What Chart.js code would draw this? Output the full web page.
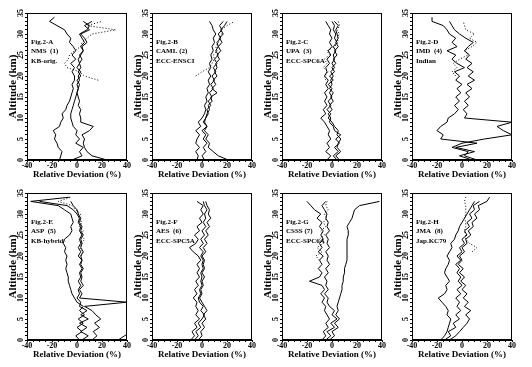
<!DOCTYPE html>
<html lang="en">
<head>
<meta charset="UTF-8">
<title>Relative Deviation Profiles</title>
<script src="https://cdn.jsdelivr.net/npm/chart.js"></script>
<style>
  body { margin: 0; background: #fff; }
  #wrap { position: relative; width: 532px; height: 367px; }
  #wrap canvas { position: absolute; }
</style>
</head>
<body>
<div id="wrap"></div>
<script>
// altitude levels (km), shared by every profile
const altitudes = [0,1,2,3,4,5,6,7,8,9,10,11,12,13,14,15,16,17,18,19,20,21,22,23,24,25,26,27,28,29,30,31,32,33,34];
const xTickLabels = [-40, -20, 0, 20, 40];
const yTickLabels = [0, 5, 10, 15, 20, 25, 30, 35];

const panelTitles = ['Fig.2-A', 'Fig.2-B', 'Fig.2-C', 'Fig.2-D', 'Fig.2-E', 'Fig.2-F', 'Fig.2-G', 'Fig.2-H'];
const stationNames = ['NMS  (1)', 'CAML (2)', 'UPA  (3)', 'IMD  (4)', 'ASP  (5)', 'AES  (6)', 'CSSS (7)', 'JMA  (8)'];
const sondeTypes = ['KB-orig.', 'ECC-ENSCI', 'ECC-SPC6A', 'Indian', 'KB-hybrid', 'ECC-SPC5A', 'ECC-SPC6A', 'Jap.KC79'];

// relative deviation (%) at each altitude, null = no data
// panel A
const aLine1 = [-14,-13,-12,-15,-16,-18,-17,-19,-14,-13,-11,-12,-9,-8,-6,-5,-4,-3,-4,-2,-2,-4,-2,-5,-1,-4,-1,-3,-6,-5,-8,-10,-16,-22,-18];
const aLine2 = [-4,4,2,5,-1,2,-1,0,-3,-4,-5,-5,-4,-3,-2,-1,0,1,2,0,3,1,3,2,4,2,5,3,6,4,2,8,10,5,null];
const aLine3 = [24,12,8,6,5,6,4,10,13,3,3,2,3,1,2,1,0,1,0,2,1,3,0,2,1,3,5,4,8,6,3,10,6,12,null];
const aDots  = [null,null,null,null,null,null,null,null,null,null,null,null,null,null,null,null,null,null,null,17,6,2,-8,-10,-7,-6,-2,3,4,8,12,31,8,20,null];
// panel B
const bLine1 = [-4,-3,-5,-2,-5,-4,-2,-5,-1,-3,0,2,3,2,4,3,5,4,6,5,7,5,7,6,8,7,9,8,10,9,11,9,8,6,null];
const bLine2 = [2,0,3,1,4,1,3,0,4,2,3,5,4,7,5,8,6,9,7,10,8,11,9,12,10,13,11,13,12,15,13,16,14,17,null];
const bLine3 = [21,13,9,5,6,3,5,2,4,1,3,4,6,5,8,7,12,8,11,9,12,10,12,11,14,12,15,13,16,14,17,15,18,20,null];
const bDots  = [null,null,null,null,null,null,null,null,null,null,null,null,null,null,null,null,null,null,null,null,-5,0,6,8,10,9,12,11,13,14,16,15,20,26,null];
// panel C
const cLine1 = [-4,-1,-5,-2,-4,-1,-3,-2,-4,-6,-9,-5,-7,-4,-6,-4,-6,-3,-5,-3,-6,-4,-5,-2,-4,-1,-3,0,-2,0,-2,-1,-3,-5,null];
const cLine2 = [4,1,5,2,6,3,7,2,1,-2,-1,-3,0,-2,1,-1,1,-2,0,-1,1,-1,2,0,2,1,3,1,4,2,3,1,2,0,null];
const cLine3 = [6,3,7,4,5,7,4,5,2,0,-3,-1,-4,-1,-3,0,-2,0,-3,1,-2,2,0,3,1,4,2,5,3,5,4,3,5,2,null];
const cDots  = [null,null,null,null,null,null,null,null,null,null,null,null,null,null,null,null,null,null,null,-5,-6,-3,-7,-4,-6,-2,-4,2,5,4,6,4,6,5,null];
// panel D
const dLine1 = [8,-2,10,-5,12,-17,-15,-20,-17,-12,-11,-6,-3,-6,-2,-5,-1,-4,0,-5,-2,-6,2,-4,-8,-5,-12,-4,-8,-5,-10,-12,-15,-24,-24];
const dLine2 = [12,2,5,-8,0,18,40,33,28,40,2,4,1,5,2,6,3,8,4,10,5,9,4,8,3,6,2,5,9,3,-2,-6,-8,-10,null];
const dDots  = [null,null,null,null,null,null,null,null,null,null,null,null,null,null,null,null,null,null,null,null,-5,-8,-4,-7,-2,5,2,8,12,6,10,3,2,1,null];
// panel E
const eLine1 = [2,-1,4,0,5,1,6,2,5,0,-2,-4,-5,-6,-7,-7,-8,-9,-8,-9,-8,-10,-9,-11,-10,-6,-4,-5,-3,-4,-5,-10,-15,-37,-6];
const eLine2 = [4,9,3,8,2,9,3,8,2,3,0,2,1,3,1,3,2,4,2,4,1,3,1,3,2,4,2,3,1,2,0,-3,-8,-30,null];
const eLine3 = [12,16,13,18,14,19,15,12,6,40,2,4,2,5,3,4,3,5,3,4,3,5,3,4,3,5,3,4,2,3,1,0,-3,-5,null];
const eLine4 = [33,38,45,null,null,null,null,null,null,null,null,null,null,null,null,null,null,null,null,null,null,null,null,null,null,null,null,null,null,null,null,null,null,null,null];
const eDots  = [null,null,null,null,null,null,null,null,null,null,null,null,null,null,null,null,null,null,null,null,3,5,2,4,6,3,5,2,4,1,3,-1,-4,-15,-5];
// panel F
const fLine1 = [-9,-6,-8,-4,-6,-2,-5,-3,-5,-4,-7,-4,-6,-3,-5,-2,-4,-2,-4,-1,-3,-7,-10,-5,-3,-6,-2,-4,0,-2,1,-1,1,-4,null];
const fLine2 = [-6,-3,-5,-1,-3,0,2,-1,1,-2,-3,-1,-2,0,-1,0,-1,1,0,1,-1,1,-2,1,-1,2,0,3,1,3,2,4,2,1,null];
const fLine3 = [-3,0,-1,2,0,3,1,4,2,0,-2,0,-1,1,0,2,0,2,1,2,0,3,1,4,2,5,3,6,4,7,5,6,4,3,null];
// panel G
const gLine1 = [-8,-5,-7,-3,-5,-2,-4,-6,-5,-8,-6,-9,-6,-8,-18,-10,-8,-11,-8,-10,-7,-11,-8,-10,-7,-9,-7,-10,-8,-12,-9,-14,-17,-20,null];
const gLine2 = [-5,-1,-4,2,-1,4,0,2,-2,-4,-3,-6,-3,-5,-4,-6,-3,-5,-2,-4,-3,-5,-2,-4,-3,-5,-2,-4,-3,-5,-4,-6,-8,-5,null];
const gLine3 = [-2,2,0,5,2,6,3,5,4,5,6,7,8,8,9,9,10,10,11,12,12,12,12,12,12,13,13,12,14,16,17,18,22,38,null];
const gDots  = [null,null,null,null,null,null,null,null,null,null,null,null,null,null,null,null,null,null,null,-10,-13,-8,-12,-7,-10,-6,-9,-5,-7,-4,-6,-3,-5,-4,null];
// panel H
const hLine1 = [-17,-14,-12,-11,-10,-9,-12,-11,-13,-16,-19,-14,-12,-13,-10,-12,-14,-13,-11,-10,-12,-10,-8,-9,-6,-5,-3,-2,0,2,4,6,8,10,null];
const hLine2 = [-14,-9,-11,-5,-7,-2,-5,-1,-4,-2,-5,-1,-4,0,-3,-1,-4,-2,-5,-1,-4,0,-2,2,0,4,2,6,4,8,6,10,9,14,null];
const hLine3 = [-10,-5,-2,1,4,6,3,7,2,5,1,4,0,3,-1,2,-2,1,-3,0,-2,2,0,4,3,7,5,9,8,12,10,14,13,20,22];
const hDots  = [null,null,null,null,null,null,null,null,null,null,null,null,null,null,null,null,null,null,null,null,null,8,12,6,3,3,2,3,3,2,3,3,3,2,3];

const panels = [
    { solid: [aLine1, aLine2, aLine3], dotted: [aDots] },
    { solid: [bLine1, bLine2, bLine3], dotted: [bDots] },
    { solid: [cLine1, cLine2, cLine3], dotted: [cDots] },
    { solid: [dLine1, dLine2], dotted: [dDots] },
    { solid: [eLine1, eLine2, eLine3, eLine4], dotted: [eDots] },
    { solid: [fLine1, fLine2, fLine3], dotted: [] },
    { solid: [gLine1, gLine2, gLine3], dotted: [gDots] },
    { solid: [hLine1, hLine2, hLine3], dotted: [hDots] }
];

const canvasLeft = [0, 125, 255, 385];
const canvasTop = [0, 180];
const serif = '"Liberation Serif", "DejaVu Serif", serif';

// box around plot, rotated altitude labels, and the label block in the upper left
const panelFrame = {
    id: 'panelFrame',
    afterDraw(chart, args, opts) {
        if (!opts.lines) return;
        const { ctx, chartArea: a } = chart;
        const yScale = chart.scales.y;
        ctx.save();
        ctx.strokeStyle = '#000';
        ctx.lineWidth = 1;
        ctx.strokeRect(Math.round(a.left) + 0.5, Math.round(a.top) + 0.5, Math.round(a.width) - 1, Math.round(a.height) - 1);
        ctx.fillStyle = '#000';
        ctx.textAlign = 'center';
        ctx.textBaseline = 'middle';

        // y tick labels, read bottom to top
        ctx.font = 'bold 8px ' + serif;
        yTickLabels.forEach(v => {
            ctx.save();
            ctx.translate(a.left - 6, yScale.getPixelForValue(v));
            ctx.rotate(-Math.PI / 2);
            ctx.fillText(String(v), 0, 0);
            ctx.restore();
        });

        // y axis title
        ctx.save();
        ctx.font = 'bold 11px ' + serif;
        ctx.translate(a.left - 14, (a.top + a.bottom) / 2);
        ctx.rotate(-Math.PI / 2);
        ctx.fillText('Altitude (km)', 0, 0);
        ctx.restore();

        ctx.font = 'bold 7px ' + serif;
        ctx.textAlign = 'left';
        opts.lines.forEach((t, i) => ctx.fillText(t, a.left + 4, a.top + 29 + i * 9.5));
        ctx.restore();
    }
};
Chart.register(panelFrame);

function toPoints(vals) {
    return vals.map((v, i) => ({ x: v, y: altitudes[i] })).filter(p => p.x !== null);
}

function drawPanel(idx) {
    const canvas = document.createElement('canvas');
    canvas.width = 132;
    canvas.height = 180;
    canvas.style.left = canvasLeft[idx % 4] + 'px';
    canvas.style.top = canvasTop[Math.floor(idx / 4)] + 'px';
    document.getElementById('wrap').appendChild(canvas);

    const p = panels[idx];
    const datasets = [];
    p.solid.forEach(vals => datasets.push({
        data: toPoints(vals), borderColor: '#000', borderWidth: 1, pointRadius: 0
    }));
    p.dotted.forEach(vals => datasets.push({
        data: toPoints(vals), borderColor: '#000', borderWidth: 1, borderDash: [1, 2], pointRadius: 0
    }));

    new Chart(canvas, {
        type: 'line',
        data: { datasets: datasets },
        options: {
            responsive: false,
            animation: false,
            indexAxis: 'y',
            layout: { padding: { top: 13, right: 5, left: 25, bottom: 0 } },
            plugins: {
                legend: { display: false },
                tooltip: { enabled: false },
                panelFrame: { lines: [panelTitles[idx], stationNames[idx], sondeTypes[idx]] }
            },
            scales: {
                x: {
                    type: 'linear', min: -40, max: 40,
                    ticks: {
                        stepSize: 5, autoSkip: false, maxRotation: 0, padding: -1, color: '#000',
                        font: { family: serif, size: 8, weight: 'bold' },
                        callback: v => xTickLabels.includes(v) ? String(v) : ''
                    },
                    grid: { drawOnChartArea: false, tickLength: 2, color: '#000' },
                    border: { color: '#000' },
                    title: {
                        display: true, text: 'Relative Deviation (%)', color: '#000',
                        font: { family: serif, size: 9, weight: 'bold' }, padding: { top: 0, bottom: 0 }
                    },
                    afterFit: s => { s.height = 20; }
                },
                y: {
                    type: 'linear', min: 0, max: 35,
                    ticks: { stepSize: 1, autoSkip: false, display: false },
                    grid: { drawOnChartArea: false, tickLength: 2, color: '#000' },
                    border: { color: '#000' },
                    afterFit: s => { s.width = 2; }
                }
            }
        }
    });
}

for (let i = 0; i < panels.length; i++) drawPanel(i);
</script>
</body>
</html>
